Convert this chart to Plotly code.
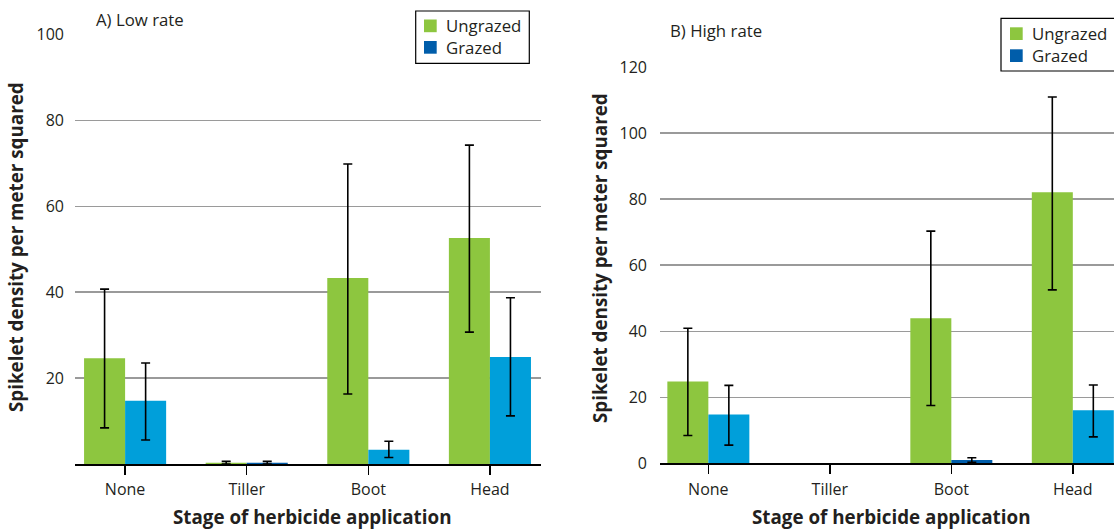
import plotly.graph_objects as go

# ---------------- data ----------------
stages = ["None", "Tiller", "Boot", "Head"]

# Panel A) Low rate
ungrazed_low = [24.6, 0.3, 43.3, 52.6]
ungrazed_low_upper = [40.7, 0.6, 69.8, 74.2]
ungrazed_low_lower = [8.4, 0.0, 16.3, 30.7]
grazed_low = [14.7, 0.3, 3.3, 24.9]
grazed_low_upper = [23.5, 0.6, 5.3, 38.7]
grazed_low_lower = [5.6, 0.0, 1.5, 11.2]

# Panel B) High rate (no spikelets recorded for Tiller)
ungrazed_high = [24.8, None, 43.9, 82.1]
ungrazed_high_upper = [40.9, None, 70.3, 110.9]
ungrazed_high_lower = [8.4, None, 17.5, 52.5]
grazed_high = [14.8, None, 1.0, 16.1]
grazed_high_upper = [23.6, None, 1.7, 23.7]
grazed_high_lower = [5.5, None, 0.3, 8.0]

low_ticks = [20, 40, 60, 80, 100]
high_ticks = [0, 20, 40, 60, 80, 100, 120]

# ---------------- style ----------------
W, H = 1114, 531
GREEN = "#8dc63f"
CYAN = "#009fda"
DBLUE = "#005daa"
TXT = "#231f20"
FONT = "Open Sans"

grazed_low_colors = [CYAN, DBLUE, CYAN, CYAN]
grazed_high_colors = [CYAN, CYAN, DBLUE, CYAN]


def px(x):
    return x / W


def py(y):
    return 1 - y / H


def err(vals, upper, lower):
    plus = [None if v is None else u - v for u, v in zip(upper, vals)]
    minus = [None if v is None else v - l for v, l in zip(vals, lower)]
    return dict(type="data", symmetric=False, array=plus, arrayminus=minus,
                color="black", thickness=1.6, width=4.5)


fig = go.Figure()

fig.add_trace(go.Bar(x=stages, y=ungrazed_low, marker_color=GREEN, marker_line_width=0,
                     error_y=err(ungrazed_low, ungrazed_low_upper, ungrazed_low_lower),
                     xaxis="x", yaxis="y", showlegend=False, name="Ungrazed", hoverinfo="skip"))
fig.add_trace(go.Bar(x=stages, y=grazed_low, marker_color=grazed_low_colors, marker_line_width=0,
                     error_y=err(grazed_low, grazed_low_upper, grazed_low_lower),
                     xaxis="x", yaxis="y", showlegend=False, name="Grazed", hoverinfo="skip"))
fig.add_trace(go.Bar(x=stages, y=ungrazed_high, marker_color=GREEN, marker_line_width=0,
                     error_y=err(ungrazed_high, ungrazed_high_upper, ungrazed_high_lower),
                     xaxis="x2", yaxis="y2", showlegend=False, name="Ungrazed", hoverinfo="skip"))
fig.add_trace(go.Bar(x=stages, y=grazed_high, marker_color=grazed_high_colors, marker_line_width=0,
                     error_y=err(grazed_high, grazed_high_upper, grazed_high_lower),
                     xaxis="x2", yaxis="y2", showlegend=False, name="Grazed", hoverinfo="skip"))

xcommon = dict(type="category", showline=True, linecolor="black", linewidth=2,
               ticks="outside", ticklen=9, tickwidth=1.5, tickcolor="black",
               showgrid=False, zeroline=False, automargin=False,
               tickfont=dict(family=FONT, size=16, color=TXT), ticklabelstandoff=1)
ycommon = dict(showline=False, ticks="", showgrid=True, gridcolor="#9a9a9a", gridwidth=1.3,
               zeroline=False, automargin=False,
               tickfont=dict(family=FONT, size=16, color=TXT), ticklabelstandoff=10)

fig.update_layout(
    width=W, height=H,
    margin=dict(l=0, r=0, t=0, b=0),
    paper_bgcolor="white", plot_bgcolor="white",
    barmode="group", bargap=0.325, bargroupgap=0,
    font=dict(family=FONT, color=TXT),
    xaxis=dict(xcommon, domain=[px(75), px(541)], range=[-0.412, 3.42], anchor="y"),
    yaxis=dict(ycommon, domain=[py(464), py(34.3)], range=[0, 100], tickvals=low_ticks, anchor="x"),
    xaxis2=dict(xcommon, domain=[px(660), 1.0], range=[-0.398, 3.339], anchor="y2"),
    yaxis2=dict(ycommon, domain=[py(463.3), py(67)], range=[0, 120], tickvals=high_ticks, anchor="x2",
                ticklabelstandoff=12),
)

annotations = []
shapes = []

# panel titles
annotations.append(dict(text="A) Low rate", x=px(94), y=py(19), xref="paper", yref="paper",
                        xanchor="left", yanchor="middle", showarrow=False,
                        font=dict(family=FONT, size=16.8, color=TXT)))
annotations.append(dict(text="B) High rate", x=px(668), y=py(30), xref="paper", yref="paper",
                        xanchor="left", yanchor="middle", showarrow=False,
                        font=dict(family=FONT, size=16.8, color=TXT)))

# axis titles
for xc, yc in [(16, 247), (600, 258)]:
    annotations.append(dict(text="<b>Spikelet density per meter squared</b>", x=px(xc), y=py(yc),
                            xref="paper", yref="paper", textangle=-90, showarrow=False,
                            xanchor="center", yanchor="middle",
                            font=dict(family=FONT, size=18.8, color=TXT)))
for xc in [312, 891]:
    annotations.append(dict(text="<b>Stage of herbicide application</b>", x=px(xc), y=py(517),
                            xref="paper", yref="paper", showarrow=False,
                            xanchor="center", yanchor="middle",
                            font=dict(family=FONT, size=18.8, color=TXT)))

# legends (drawn as boxes)
def legend(x0, y0, x1, y1, sx, sy1, sy2, tx):
    shapes.append(dict(type="rect", xref="paper", yref="paper", x0=px(x0), x1=px(x1),
                       y0=py(y1), y1=py(y0), line=dict(color="black", width=1.2),
                       fillcolor="white", layer="above"))
    for sy, col, lab in [(sy1, GREEN, "Ungrazed"), (sy2, DBLUE, "Grazed")]:
        shapes.append(dict(type="rect", xref="paper", yref="paper", x0=px(sx), x1=px(sx + 12.7),
                           y0=py(sy + 12.7), y1=py(sy), line=dict(width=0),
                           fillcolor=col, layer="above"))
        annotations.append(dict(text=lab, x=px(tx), y=py(sy + 6.3), xref="paper", yref="paper",
                                xanchor="left", yanchor="middle", showarrow=False,
                                font=dict(family=FONT, size=16.8, color=TXT)))

legend(415.7, 11, 529.3, 63.3, 424, 19.5, 41, 444)
legend(1001, 18.3, 1125, 71, 1010, 27.3, 49.3, 1030)

fig.update_layout(annotations=annotations, shapes=shapes)

fig.write_html("out.html", config={"displayModeBar": False, "staticPlot": True},
               post_script="document.body.style.margin='0';document.body.style.overflow='hidden';")
